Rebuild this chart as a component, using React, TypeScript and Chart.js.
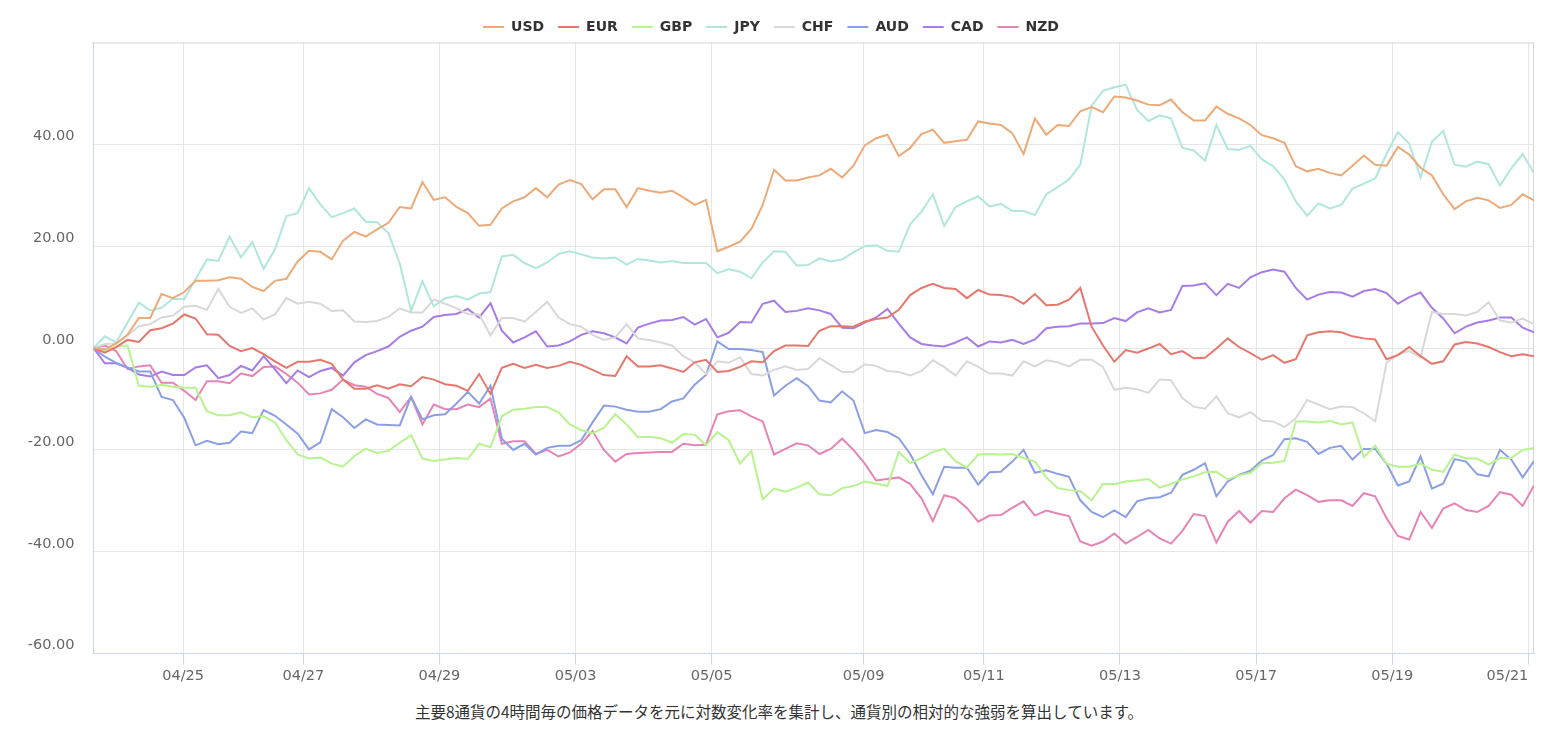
import React, { useEffect, useRef } from 'react';
import { Chart, registerables } from 'chart.js';

Chart.register(...registerables);

const CURRENCIES = ['USD', 'EUR', 'GBP', 'JPY', 'CHF', 'AUD', 'CAD', 'NZD'];
const COLORS = ['#ecaa78', '#e5786d', '#b7f48f', '#b0e7dd', '#d8d8d8', '#8b9fe5', '#a77ce6', '#e684b5'];

const USD = [0, -0.3, 0.9, 2.6, 5.9, 5.9, 10.6, 9.8, 11.0, 13.2, 13.2, 13.3, 13.9, 13.6, 12.0, 11.2, 13.2, 13.6, 17.0, 19.1, 18.9, 17.4,
  21.1, 22.8, 21.9, 23.3, 24.6, 27.7, 27.4, 32.6, 29.1, 29.6, 27.7, 26.5, 24.0, 24.2, 27.4, 28.8, 29.6, 31.4, 29.6, 32.1, 33.0,
  32.2, 29.2, 31.2, 31.2, 27.7, 31.4, 30.9, 30.5, 30.9, 29.6, 28.1, 29.1, 19.0, 19.9, 20.9, 23.4, 28.1, 35.0, 32.9, 32.9, 33.5,
  33.9, 35.2, 33.5, 35.8, 39.8, 41.2, 41.9, 37.7, 39.3, 42.0, 42.9, 40.3, 40.6, 40.9, 44.5, 44.1, 43.8, 42.2, 38.1, 45.1, 41.9, 43.8,
  43.6, 46.5, 47.3, 46.3, 49.4, 49.2, 48.6, 47.8, 47.7, 48.8, 46.3, 44.7, 44.7, 47.4, 46.0, 45.1, 43.8, 41.8, 41.2, 40.3, 35.7,
  34.7, 35.2, 34.4, 33.9, 35.8, 37.8, 36.0, 35.8, 39.5, 38.0, 35.4, 33.9, 30.2, 27.3, 28.8, 29.5, 29.0, 27.5, 28.1, 30.2, 29.0];

const EUR = [0, -0.9, 0.2, 1.6, 1.2, 3.5, 3.9, 4.8, 6.6, 5.8, 2.7, 2.6, 0.4, -0.6, 0.0, -1.2, -2.6, -3.9, -2.7, -2.7, -2.3, -3.1,
  -6.2, -8.0, -8.0, -7.3, -8.0, -7.1, -7.5, -5.7, -6.2, -7.1, -7.4, -8.4, -5.1, -9.0, -3.9, -3.1, -3.9, -3.3, -3.9, -3.5, -2.7,
  -3.3, -4.3, -5.3, -5.5, -1.6, -3.6, -3.6, -3.4, -4.0, -4.7, -2.8, -2.3, -4.7, -4.5, -3.7, -2.6, -2.8, -0.6, 0.5, 0.5, 0.4,
  3.4, 4.3, 4.3, 4.2, 5.2, 5.7, 6.0, 7.5, 10.4, 11.8, 12.6, 11.8, 11.6, 9.8, 11.4, 10.5, 10.4, 10.0, 8.7, 10.6, 8.4, 8.5,
  9.5, 11.8, 4.2, 0.5, -2.7, -0.4, -0.9, -0.1, 0.8, -1.2, -0.6, -2.0, -1.9, -0.1, 1.9, 0.2, -1.0, -2.3, -1.4, -2.9, -2.2,
  2.5, 3.1, 3.3, 3.1, 2.3, 1.9, 1.7, -2.2, -1.4, 0.2, -1.6, -3.1, -2.6, 0.7, 1.2, 0.9, 0.2, -0.8, -1.6, -1.2, -1.6];

const GBP = [0, -0.7, 0.3, 0.5, -7.4, -7.6, -7.2, -7.6, -7.8, -7.8, -12.4, -13.2, -13.2, -12.6, -13.6, -13.4, -14.6, -18.1, -20.9, -21.7, -21.5, -22.7,
  -23.3, -21.2, -19.8, -20.6, -20.2, -18.6, -17.1, -21.7, -22.2, -21.9, -21.6, -21.8, -18.8, -19.5, -13.4, -12.1, -11.9, -11.6, -11.6, -12.6, -15.0,
  -16.1, -16.7, -15.7, -13.0, -15.0, -17.5, -17.4, -17.7, -18.6, -16.9, -17.0, -19.1, -16.5, -18.1, -22.7, -20.2, -29.7, -27.6, -28.2, -27.4, -26.4,
  -28.7, -28.9, -27.5, -27.1, -26.2, -26.6, -27.1, -20.4, -22.6, -21.6, -20.4, -19.8, -22.2, -23.5, -20.9, -20.8, -20.9, -20.8, -21.6, -22.3, -25.4, -27.5,
  -27.9, -28.1, -29.9, -26.7, -26.7, -26.2, -26.0, -25.7, -27.4, -26.7, -25.8, -25.2, -24.4, -24.3, -25.8, -25.0, -24.5, -22.6, -22.5, -22.2, -14.4,
  -14.4, -14.6, -14.3, -15.0, -14.6, -21.4, -19.2, -22.7, -23.3, -23.3, -22.7, -23.9, -24.3, -20.9, -21.7, -21.7, -22.9, -21.6, -21.6, -20.0, -19.6];

const JPY = [0, 2.3, 1.1, 5.0, 8.9, 7.4, 7.9, 9.7, 9.6, 13.5, 17.4, 17.1, 21.9, 17.8, 20.8, 15.5, 19.4, 25.9, 26.5, 31.4, 28.2, 25.7,
  26.5, 27.4, 24.8, 24.7, 22.6, 16.6, 7.3, 13.1, 8.2, 9.8, 10.2, 9.5, 10.7, 11.0, 18.0, 18.3, 16.7, 15.7, 16.8, 18.5, 19.0,
  18.4, 17.8, 17.6, 17.8, 16.4, 17.5, 17.2, 16.8, 17.1, 16.7, 16.7, 16.7, 14.7, 15.5, 15.0, 13.7, 16.8, 19.0, 18.9, 16.2, 16.3,
  17.6, 17.0, 17.4, 18.8, 20.0, 20.2, 19.1, 18.9, 24.3, 26.8, 30.2, 24.0, 27.7, 28.8, 29.8, 27.8, 28.3, 26.9, 26.9, 26.1, 30.2, 31.6,
  33.1, 36.0, 47.6, 50.5, 51.2, 51.7, 46.8, 44.6, 45.7, 45.1, 39.3, 38.8, 36.8, 43.8, 39.1, 38.9, 39.7, 37.1, 35.7, 33.1, 28.8,
  26.0, 28.4, 27.4, 28.1, 31.3, 32.3, 33.3, 38.1, 42.4, 40.1, 33.5, 40.5, 42.6, 36.0, 35.6, 36.6, 36.1, 31.9, 35.3, 38.1, 34.4];

const CHF = [0, 0.8, 0.9, 2.5, 4.3, 4.7, 6.0, 6.4, 8.1, 8.3, 7.5, 11.6, 8.1, 6.9, 7.8, 5.6, 6.6, 9.8, 8.7, 9.1, 8.7, 7.3,
  7.4, 5.2, 5.1, 5.3, 6.1, 7.8, 7.0, 7.0, 9.5, 8.7, 7.8, 6.7, 6.6, 2.5, 5.9, 5.9, 5.2, 7.1, 9.1, 6.0, 4.7,
  4.2, 2.6, 1.6, 2.1, 4.7, 1.9, 1.6, 1.1, 0.5, -1.6, -2.8, -5.1, -2.6, -2.9, -1.8, -5.1, -5.4, -4.3, -3.6, -4.3, -4.1,
  -2.0, -3.3, -4.7, -4.7, -3.2, -3.5, -4.5, -4.7, -5.4, -4.5, -2.4, -3.7, -5.4, -2.6, -3.7, -5.0, -5.0, -5.4, -2.6, -3.6, -2.4, -2.8,
  -3.6, -2.3, -2.3, -3.7, -8.2, -7.8, -8.1, -8.8, -6.2, -6.3, -9.8, -11.5, -11.9, -9.5, -12.8, -13.6, -12.6, -14.3, -14.4, -15.5, -13.8,
  -10.2, -11.1, -12.0, -11.5, -11.6, -12.8, -14.4, -2.9, -1.2, -0.6, -1.8, 7.1, 6.7, 6.7, 6.4, 7.1, 9.0, 5.4, 5.0, 5.8, 4.7];

const AUD = [0, -1.7, -2.9, -3.8, -4.6, -4.6, -9.6, -10.2, -13.7, -19.1, -18.2, -18.9, -18.6, -16.4, -16.7, -12.2, -13.3, -15.0, -16.8, -19.9, -18.5, -12.0,
  -13.6, -15.7, -14.0, -15.0, -15.1, -15.2, -9.6, -14.0, -13.2, -13.0, -10.9, -8.6, -10.9, -7.4, -17.8, -20.0, -18.8, -20.9, -19.6, -19.2, -19.2,
  -18.1, -14.6, -11.3, -11.5, -12.1, -12.5, -12.5, -12.0, -10.5, -9.9, -7.2, -5.3, 1.3, -0.2, -0.2, -0.4, -0.8, -9.3, -7.4, -5.9, -7.5,
  -10.3, -10.7, -8.5, -10.3, -16.7, -16.1, -16.5, -17.7, -20.8, -25.0, -28.7, -23.3, -23.5, -23.5, -26.8, -24.4, -24.3, -22.3, -20.0, -24.5, -24.0, -24.7,
  -25.3, -29.9, -32.2, -33.2, -31.9, -33.2, -30.1, -29.5, -29.3, -28.4, -24.9, -23.9, -22.6, -29.1, -26.2, -24.9, -24.1, -22.1, -21.0, -17.9, -17.7,
  -18.4, -20.8, -19.6, -19.2, -21.9, -19.8, -19.8, -22.7, -27.0, -26.2, -21.3, -27.6, -26.6, -21.8, -22.3, -24.8, -25.2, -20.0, -21.9, -25.4, -22.2];

const CAD = [0, -3.0, -3.0, -3.9, -5.2, -5.6, -4.6, -5.3, -5.3, -3.8, -3.4, -5.9, -5.3, -3.5, -4.4, -1.6, -4.2, -6.9, -4.4, -5.7, -4.5, -3.9,
  -5.4, -2.8, -1.4, -0.6, 0.3, 2.2, 3.4, 4.2, 6.1, 6.5, 6.7, 7.7, 6.0, 8.8, 3.4, 1.1, 2.1, 3.3, 0.3, 0.5, 1.3,
  2.6, 3.3, 2.9, 2.1, 0.9, 4.0, 4.8, 5.4, 5.5, 6.1, 4.6, 5.7, 2.1, 3.0, 5.1, 5.0, 8.7, 9.3, 7.1, 7.3, 7.8,
  7.4, 6.7, 4.0, 3.9, 5.0, 6.0, 7.7, 4.8, 2.1, 0.8, 0.5, 0.3, 1.1, 2.1, 0.3, 1.3, 1.1, 1.6, 0.8, 1.7, 3.9, 4.2,
  4.3, 4.8, 4.8, 4.9, 5.9, 5.3, 7.0, 7.8, 7.0, 7.5, 12.2, 12.3, 12.7, 10.4, 12.6, 11.8, 13.9, 14.9, 15.4, 15.0, 11.8,
  9.5, 10.5, 11.0, 10.9, 10.1, 11.2, 11.6, 10.8, 8.7, 10.0, 10.9, 7.9, 5.8, 2.9, 4.2, 5.0, 5.4, 6.0, 6.0, 4.0, 3.1];

const NZD = [0, 0.5, -0.6, -4.1, -3.6, -3.4, -6.8, -6.8, -8.4, -10.2, -6.5, -6.5, -6.9, -5.0, -5.5, -3.7, -3.6, -5.1, -6.8, -9.1, -8.9, -8.2,
  -6.2, -7.3, -7.6, -9.0, -9.8, -12.6, -9.6, -15.0, -11.1, -12.0, -12.0, -11.1, -11.6, -9.9, -18.8, -18.3, -18.3, -20.8, -20.0, -21.3, -20.5,
  -18.8, -16.3, -20.0, -22.3, -20.8, -20.6, -20.5, -20.4, -20.4, -18.8, -19.1, -19.0, -13.0, -12.4, -12.2, -13.4, -14.4, -20.9, -19.8, -18.7, -19.1,
  -20.8, -19.8, -17.8, -20.0, -22.7, -26.0, -25.7, -25.4, -26.7, -29.5, -34.0, -28.9, -29.5, -31.4, -34.1, -32.9, -32.8, -31.4, -30.1, -32.9, -31.9, -32.5,
  -33.0, -38.0, -38.8, -38.0, -36.4, -38.4, -37.1, -35.7, -37.4, -38.4, -35.9, -32.6, -33.0, -38.2, -34.1, -32.0, -34.3, -32.0, -32.2, -29.5, -27.8,
  -28.9, -30.2, -29.9, -29.9, -31.0, -28.5, -29.1, -33.4, -36.9, -37.6, -32.2, -35.3, -31.5, -30.5, -31.8, -32.2, -31.0, -28.3, -28.8, -31.0, -27.0];

const SERIES = [USD, EUR, GBP, JPY, CHF, AUD, CAD, NZD];

const TICK_LABELS = ['', '04/25', '04/27', '04/29', '05/03', '05/05', '05/09', '05/11', '05/13', '05/17', '05/19', '05/21'];
const TICK_POSITIONS = [0, 7.9, 18.5, 30.5, 42.5, 54.5, 67.9, 78.5, 90.5, 102.5, 114.5, 126.5];
const Y_TICKS = [-60, -40, -20, 0, 20, 40, 60];

const NOTE = '主要8通貨の4時間毎の価格データを元に対数変化率を集計し、通貨別の相対的な強弱を算出しています。';

const FONT = "'DejaVu Sans', sans-serif";

export default function App() {
  const canvasRef = useRef<HTMLCanvasElement>(null);

  useEffect(() => {
    if (!canvasRef.current) return;

    const framePlugin = {
      id: 'frame',
      beforeDatasetsDraw(chart: any) {
        const { ctx, chartArea: a } = chart;
        ctx.save();
        ctx.strokeStyle = '#d6d6d6';
        ctx.lineWidth = 1;
        ctx.beginPath();
        ctx.moveTo(a.left, a.top + 0.5);
        ctx.lineTo(a.right, a.top + 0.5);
        ctx.moveTo(a.right - 0.5, a.top);
        ctx.lineTo(a.right - 0.5, a.bottom);
        ctx.stroke();
        ctx.restore();
      },
    };

    const legendHeightPlugin = {
      id: 'legendHeight',
      beforeInit(chart: any) {
        const lg = chart.legend;
        if (!lg) return;
        const orig = lg.fit;
        lg.fit = function () {
          orig.call(this);
          this.height = 36.5;
        };
      },
    };

    const chart = new Chart(canvasRef.current, {
      type: 'line',
      data: {
        datasets: CURRENCIES.map((name, k) => ({
          label: name,
          data: SERIES[k].map((y, x) => ({ x, y })),
          borderColor: COLORS[k],
          backgroundColor: COLORS[k],
          borderWidth: 2,
          pointRadius: 0,
          pointHoverRadius: 0,
          tension: 0,
          fill: false,
        })),
      },
      options: {
        animation: false,
        responsive: true,
        maintainAspectRatio: false,
        layout: { padding: { left: 0, right: 8, top: -2, bottom: 0 } },
        plugins: {
          legend: {
            position: 'top',
            labels: {
              usePointStyle: true,
              pointStyle: 'line',
              pointStyleWidth: 21,
              padding: 14,
              color: '#333333',
              font: { family: FONT, size: 14, weight: 'bold' },
            },
          },
          tooltip: { enabled: false },
        },
        scales: {
          x: {
            type: 'linear',
            min: 0,
            max: SERIES[0].length - 1,
            afterBuildTicks: (s: any) => {
              s.ticks = TICK_POSITIONS.map((v) => ({ value: v }));
            },
            grid: {
              color: (c: any) => (c.index === 0 ? 'rgba(0,0,0,0)' : '#e6e6e6'),
              tickColor: (c: any) => (c.index === 0 ? 'rgba(0,0,0,0)' : '#ccd6eb'),
              tickLength: 11,
            },
            border: { color: '#ccd6eb' },
            ticks: {
              autoSkip: false,
              maxRotation: 0,
              minRotation: 0,
              align: 'inner',
              padding: 3,
              color: '#666666',
              font: { family: FONT, size: 14.5 },
              callback: (_v: any, i: number) => TICK_LABELS[i],
            },
          },
          y: {
            min: -60,
            max: 60,
            afterBuildTicks: (s: any) => {
              s.ticks = Y_TICKS.map((v) => ({ value: v }));
            },
            afterFit: (s: any) => {
              s.width = 85.5;
            },
            grid: { color: '#e6e6e6', drawTicks: false },
            border: { color: '#ccd6eb' },
            ticks: {
              padding: 19,
              labelOffset: -8,
              color: '#666666',
              font: { family: FONT, size: 14.5 },
              callback: (v: any) => (v === 60 ? null : Number(v).toFixed(2)),
            },
          },
        },
      } as any,
      plugins: [framePlugin, legendHeightPlugin],
    });

    return () => chart.destroy();
  }, []);

  return (
    <div style={{ width: '100%' }}>
      <div style={{ position: 'relative', width: '100%', height: 680 }}>
        <canvas ref={canvasRef} />
      </div>
      <div
        style={{
          marginTop: 13,
          paddingLeft: 8,
          textAlign: 'center',
          fontFamily: "'Noto Sans CJK JP', sans-serif",
          fontSize: 15.5,
          lineHeight: '20px',
          color: '#333333',
        }}
      >
        {NOTE}
      </div>
    </div>
  );
}
